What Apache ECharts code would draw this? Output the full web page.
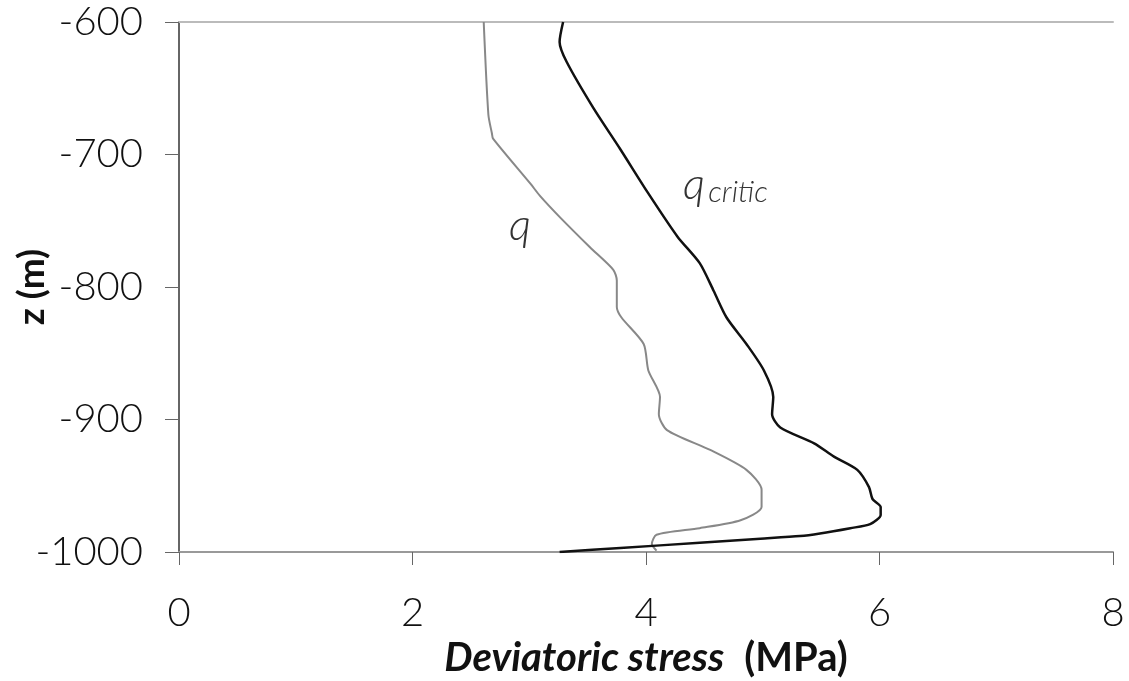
<!DOCTYPE html>
<html>
<head>
<meta charset="utf-8">
<script src="https://cdn.jsdelivr.net/npm/echarts@6/dist/echarts.min.js"></script>
<style>
  html, body { margin: 0; padding: 0; background: #fff; }
  #chart { width: 1129px; height: 681px; }
</style>
</head>
<body>
<div id="chart"></div>
<script>
// deviatoric stress q (MPa) against depth z (m)
const qStress = [2.61, 2.65, 2.68, 2.69, 3.01, 3.09, 3.27, 3.52, 3.72, 3.75, 3.75, 3.79, 3.98, 4.02, 4.12, 4.11, 4.18, 4.55, 4.86, 4.99, 4.99, 4.81, 4.46, 4.09, 4.05, 4.09];
const qDepth = [-600, -670, -684, -688, -722, -731, -748, -770, -787, -795, -815, -823, -843, -863, -883, -896, -908, -923, -938, -953, -966, -976, -982, -987, -994, -999];

// critical deviatoric stress
const qcStress = [3.29, 3.26, 3.32, 3.55, 3.78, 4.01, 4.27, 4.46, 4.58, 4.69, 4.86, 5.01, 5.09, 5.08, 5.15, 5.44, 5.61, 5.81, 5.91, 5.94, 6.01, 6.01, 5.92, 5.75, 5.49, 5.32, 4.98, 4.46, 3.78, 3.26];
const qcDepth = [-600, -615, -630, -665, -696, -728, -762, -782, -803, -823, -843, -863, -883, -896, -906, -918, -928, -938, -951, -960, -966, -972, -979, -982, -986, -988, -990, -993, -997, -1000];

const xTicks = [0, 8, 2];        // min, max, interval
const yTicks = [-1000, -600, 100];

// label anchors in data units
const qLabelAt = [2.92, -754];
const qcLabelAt = [4.68, -723];

const pair = (xs, ys) => xs.map((x, i) => [x, ys[i]]);

const chart = echarts.init(document.getElementById('chart'));

const font = 'Lato, "Open Sans", sans-serif';

chart.setOption({
    backgroundColor: '#fff',
    animation: false,
    grid: {
        left: 179,
        right: 16,
        top: 22,
        bottom: 129,
        containLabel: false,
        outerBoundsMode: 'none'
    },
    xAxis: [{
        type: 'value',
        min: xTicks[0],
        max: xTicks[1],
        interval: xTicks[2],
        splitLine: {show: false},
        axisLine: {onZero: false, lineStyle: {color: '#999', width: 2}},
        axisTick: {show: true, inside: false, length: 13, lineStyle: {color: '#666', width: 1}},
        axisLabel: {color: '#111', fontSize: 40, fontFamily: font, fontWeight: 300, margin: 41},
        name: '{it|Deviatoric stress}{rg|(MPa)}',
        nameLocation: 'middle',
        nameGap: 86,
        nameMoveOverlap: false,
        nameTextStyle: {
            rich: {
                it: {fontSize: 40, fontWeight: 'bold', fontStyle: 'italic', fontFamily: font, color: '#111'},
                rg: {fontSize: 40, fontWeight: 'bold', fontFamily: font, color: '#111', padding: [0, 0, 0, 20]}
            }
        }
    }, {
        type: 'value',
        position: 'top',
        min: xTicks[0],
        max: xTicks[1],
        splitLine: {show: false},
        axisLine: {show: true, lineStyle: {color: '#bbb', width: 2}},
        axisTick: {show: false},
        axisLabel: {show: false}
    }],
    yAxis: {
        type: 'value',
        min: yTicks[0],
        max: yTicks[1],
        interval: yTicks[2],
        splitLine: {show: false},
        axisLine: {show: true, onZero: false, lineStyle: {color: '#666', width: 2}},
        axisTick: {show: true, length: 14, lineStyle: {color: '#666', width: 1}},
        axisLabel: {color: '#111', fontSize: 40, fontFamily: font, fontWeight: 300, margin: 36, formatter: v => String(v)},
        name: 'z (m)',
        nameLocation: 'middle',
        nameGap: 128,
        nameMoveOverlap: false,
        nameTextStyle: {fontSize: 37, fontWeight: 'bold', fontFamily: font, color: '#111'}
    },
    series: [{
        name: 'q',
        type: 'line',
        data: pair(qStress, qDepth),
        smooth: 0.25,
        showSymbol: false,
        lineStyle: {color: '#888', width: 2},
        markPoint: {
            symbolSize: 0,
            data: [{
                coord: qLabelAt,
                label: {show: true, formatter: 'q', fontSize: 44, fontStyle: 'italic', fontFamily: font, fontWeight: 300, color: '#333'}
            }]
        }
    }, {
        name: 'q critic',
        type: 'line',
        data: pair(qcStress, qcDepth),
        smooth: 0.25,
        showSymbol: false,
        lineStyle: {color: '#111', width: 2.5},
        markPoint: {
            symbolSize: 0,
            data: [{
                coord: qcLabelAt,
                label: {
                    show: true,
                    formatter: '{a|q} {b|critic}',
                    rich: {
                        a: {fontSize: 44, fontStyle: 'italic', fontFamily: font, fontWeight: 300, color: '#333'},
                        b: {fontSize: 30, fontStyle: 'italic', fontFamily: font, fontWeight: 300, color: '#333', padding: [14, 0, 0, 0]}
                    }
                }
            }]
        }
    }]
});
</script>
</body>
</html>
